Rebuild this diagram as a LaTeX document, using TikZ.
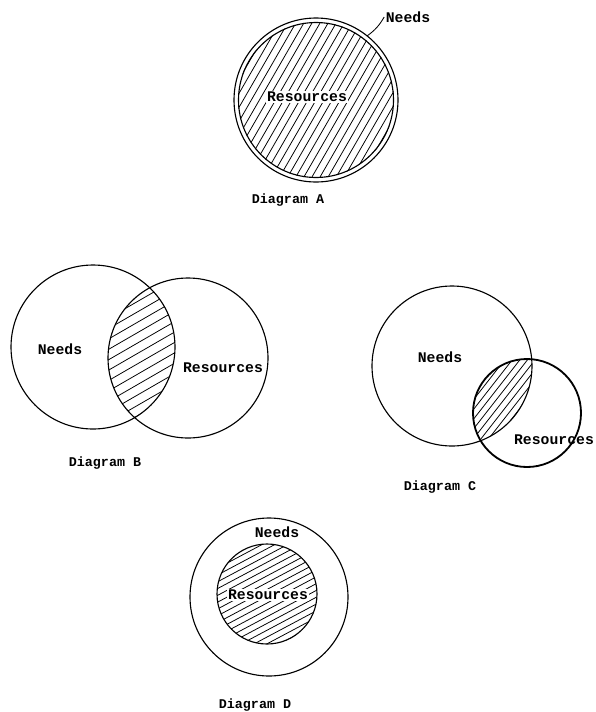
\documentclass[tikz,border=0pt]{standalone}
\usepackage{fontspec}
\setmonofont{Liberation Mono}
\usepackage{tikz}

\begin{document}
\begin{tikzpicture}[x=0.025cm,y=-0.025cm,
  ring/.style={draw,line width=0.8pt},
  hatch/.style={line width=0.55pt},
  lbl/.style={font=\ttfamily\bfseries\fontsize{10.5}{12}\selectfont,inner sep=1pt},
  dcaption/.style={font=\ttfamily\bfseries\fontsize{9.5}{11}\selectfont,inner sep=1pt}]
  \useasboundingbox (0,0) rectangle (596,712);

  % Diagram A: resources fill the needs
  \coordinate (A) at (316,100);
  \begin{scope}
    \clip (A) circle (78);
    \foreach \d in {-98,-91,...,98}
      \draw[hatch,shift={(A)},rotate=60] (-110,\d)--(110,\d);
  \end{scope}
  \draw[ring] (A) circle (82); \draw[ring] (A) circle (77.5);
  \node[lbl,fill=white] (resA) at (307,97) {Resources};
  \node[lbl] (needsA) at (408,17) {Needs};
  \coordinate (tipA) at (367,36);
  \draw[line width=0.6pt] (needsA.west) to[bend left=12] (tipA);
  \node[dcaption] (capA) at (288,200) {Diagram A};

  % Diagram B
  \coordinate (Bn) at (93,347); \coordinate (Br) at (188,358);
  \begin{scope}
    \clip (Bn) circle (82);
    \clip (Br) circle (80);
    \foreach \d in {-100,-91,...,100}
      \draw[hatch,shift={(142,352)},rotate=30] (-110,\d)--(110,\d);
  \end{scope}
  \draw[ring] (Bn) circle (82); \draw[ring] (Br) circle (80);
  \node[lbl] (needsB) at (60,349) {Needs};
  \node[lbl] (resB) at (223,368) {Resources};
  \node[dcaption] (capB) at (105,463) {Diagram B};

  % Diagram C
  \coordinate (Cn) at (452,366); \coordinate (Cr) at (527,413);
  \begin{scope}
    \clip (Cn) circle (80);
    \clip (Cr) circle (54);
    \foreach \d in {-72,-66,...,72}
      \draw[hatch,shift={(500,395)},rotate=52] (-90,\d)--(90,\d);
  \end{scope}
  \draw[ring] (Cn) circle (80); \draw[line width=1.3pt] (Cr) circle (54);
  \node[lbl] (needsC) at (440,357) {Needs};
  \node[lbl] (resC) at (554,440) {Resources};
  \node[dcaption] (capC) at (440,487) {Diagram C};

  % Diagram D
  \coordinate (Dn) at (269,597); \coordinate (Dr) at (267,594);
  \begin{scope}
    \clip (Dr) circle (50);
    \foreach \d in {-70,-64,...,70}
      \draw[hatch,shift={(Dr)},rotate=28] (-80,\d)--(80,\d);
  \end{scope}
  \draw[ring] (Dn) circle (79); \draw[ring] (Dr) circle (50);
  \node[lbl] (needsD) at (277,532) {Needs};
  \node[lbl,fill=white] (resD) at (268,595) {Resources};
  \node[dcaption] (capD) at (255,705) {Diagram D};
\end{tikzpicture}
\end{document}
